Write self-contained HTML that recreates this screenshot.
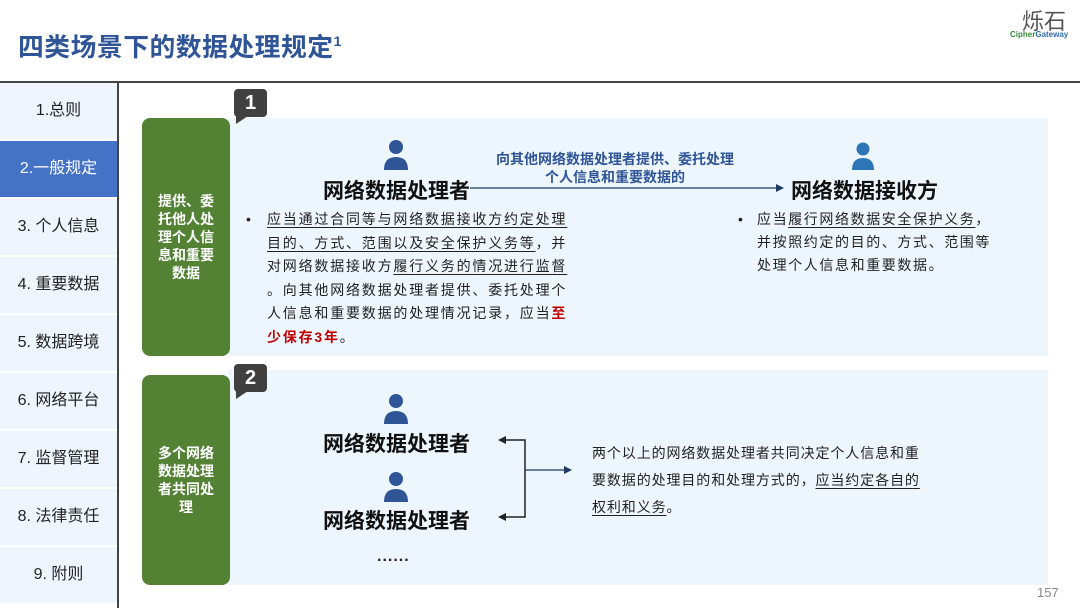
<!DOCTYPE html>
<html><head><meta charset="utf-8"><style>
*{margin:0;padding:0;box-sizing:border-box}
body{width:1080px;height:608px;position:relative;background:#fff;font-family:"Liberation Sans","Noto Sans CJK SC",sans-serif;overflow:hidden;color:#222}
.abs{position:absolute}
.title{left:18px;top:27px;font-size:25.8px;font-weight:bold;color:#2f5597;letter-spacing:0.5px}
.title sup{font-size:14px;vertical-align:10px}
.nav{left:0;width:117px;height:58px;background:#eef5fc;border-bottom:2px solid #fff;font-size:16px;text-align:center;line-height:56px;color:#222}
.nav.act{background:#4472c4;color:#fff}
.green{background:#548235;border-radius:8px;color:#fff;font-weight:bold;font-size:14px;line-height:18px;text-align:center;display:flex;align-items:center;justify-content:center;padding:0 10px}
.bg{background:#eef6fd}
.bub{width:33px;height:28px;background:#404040;border-radius:4px;color:#fff;font-weight:bold;font-size:20px;text-align:center;line-height:28px}
.bub:after{content:"";position:absolute;left:2px;bottom:-7px;border-right:12px solid transparent;border-top:8px solid #404040}
.big{font-size:21px;font-weight:bold;color:#111}
.txt{font-size:14px;line-height:26px;color:#222;white-space:nowrap}
u{text-decoration:underline;text-underline-offset:3px}
.red{color:#c00000;font-weight:bold}
</style></head><body>
<div class="abs title">四类场景下的数据处理规定<sup>1</sup></div>
<div class="abs" style="left:1022px;top:4px;font-size:22px;color:#555">烁石</div>
<div class="abs" style="left:1010px;top:30px;font-size:8px;font-weight:bold;color:#3a8a3a">Cipher<span style="color:#2f6db0">Gateway</span></div>
<div class="abs" style="left:0;top:81px;width:1080px;height:2px;background:#444"></div>
<div class="abs" style="left:117px;top:82px;width:2px;height:526px;background:#444"></div>

<div class="abs nav" style="top:83px">1.总则</div>
<div class="abs nav act" style="top:141px">2.一般规定</div>
<div class="abs nav" style="top:199px">3. 个人信息</div>
<div class="abs nav" style="top:257px">4. 重要数据</div>
<div class="abs nav" style="top:315px">5. 数据跨境</div>
<div class="abs nav" style="top:373px">6. 网络平台</div>
<div class="abs nav" style="top:431px">7. 监督管理</div>
<div class="abs nav" style="top:489px">8. 法律责任</div>
<div class="abs nav" style="top:547px">9. 附则</div>

<div class="abs bg" style="left:228px;top:118px;width:820px;height:238px"></div>
<div class="abs green" style="left:142px;top:118px;width:88px;height:238px">提供、委托他人处理个人信息和重要数据</div>
<div class="abs bub" style="left:234px;top:89px">1</div>

<div class="abs bg" style="left:228px;top:370px;width:820px;height:215px"></div>
<div class="abs green" style="left:142px;top:375px;width:88px;height:210px">多个网络数据处理者共同处理</div>
<div class="abs bub" style="left:234px;top:364px">2</div>

<svg class="abs" style="left:0;top:0" width="1080" height="608">
<g fill="#2f5597">
<circle cx="396" cy="147" r="7"/><path d="M384 170 Q384 157 396 157 Q408 157 408 170 Z"/>
<circle cx="396" cy="401" r="7"/><path d="M384 424 Q384 411 396 411 Q408 411 408 424 Z"/>
<circle cx="396" cy="479" r="7"/><path d="M384 502 Q384 489 396 489 Q408 489 408 502 Z"/>
</g>
<g fill="#2e75b6"><circle cx="863" cy="149" r="6.5"/><path d="M852 170 Q852 158 863 158 Q874 158 874 170 Z"/></g>
<line x1="470" y1="188" x2="778" y2="188" stroke="#1f3864" stroke-width="1.2"/>
<path d="M776 184 L784 188 L776 192Z" fill="#1f3864"/>
<g stroke="#222" stroke-width="1.5" fill="none"><path d="M504 440 H525 V517 H504"/></g>
<path d="M498 440 L506 436 L506 444Z M498 517 L506 513 L506 521Z" fill="#222"/>
<line x1="525" y1="470" x2="566" y2="470" stroke="#1f3864" stroke-width="1.2"/>
<path d="M564 466 L572 470 L564 474Z" fill="#1f3864"/>
</svg>

<div class="abs" style="left:480px;top:150px;width:270px;text-align:center;font-size:14px;font-weight:bold;color:#2f5597;line-height:18px">向其他网络数据处理者提供、委托处理<br>个人信息和重要数据的</div>
<div class="abs big" style="left:323px;top:175px">网络数据处理者</div>
<div class="abs big" style="left:791px;top:175px">网络数据接收方</div>
<div class="abs txt" style="left:246px;top:208px;line-height:23.6px">•</div>
<div class="abs txt" style="left:267px;top:208px;line-height:23.6px;letter-spacing:1.8px"><u>应当通过合同等与网络数据接收方约定处理</u><br><u>目的、方式、范围以及安全保护义务等</u>，并<br>对网络数据接收方<u>履行义务的情况进行监督</u><br>。向其他网络数据处理者提供、委托处理个<br>人信息和重要数据的处理情况记录，应当<span class="red">至</span><br><span class="red">少保存3年</span>。</div>
<div class="abs txt" style="left:738px;top:208px;line-height:23px">•</div>
<div class="abs txt" style="left:757px;top:208px;line-height:23px;letter-spacing:1.6px">应当<u>履行网络数据安全保护义务</u>，<br>并按照约定的目的、方式、范围等<br>处理个人信息和重要数据。</div>

<div class="abs big" style="left:323px;top:428px">网络数据处理者</div>
<div class="abs big" style="left:323px;top:505px">网络数据处理者</div>
<div class="abs" style="left:377px;top:548px;font-size:16px;font-weight:bold;letter-spacing:1px">......</div>
<div class="abs txt" style="left:592px;top:440px;line-height:27px;letter-spacing:0.9px">两个以上的网络数据处理者共同决定个人信息和重<br>要数据的处理目的和处理方式的，<u>应当约定各自的</u><br><u>权利和义务</u>。</div>
<div class="abs" style="left:1037px;top:585px;font-size:13px;color:#888">157</div>
</body></html>
